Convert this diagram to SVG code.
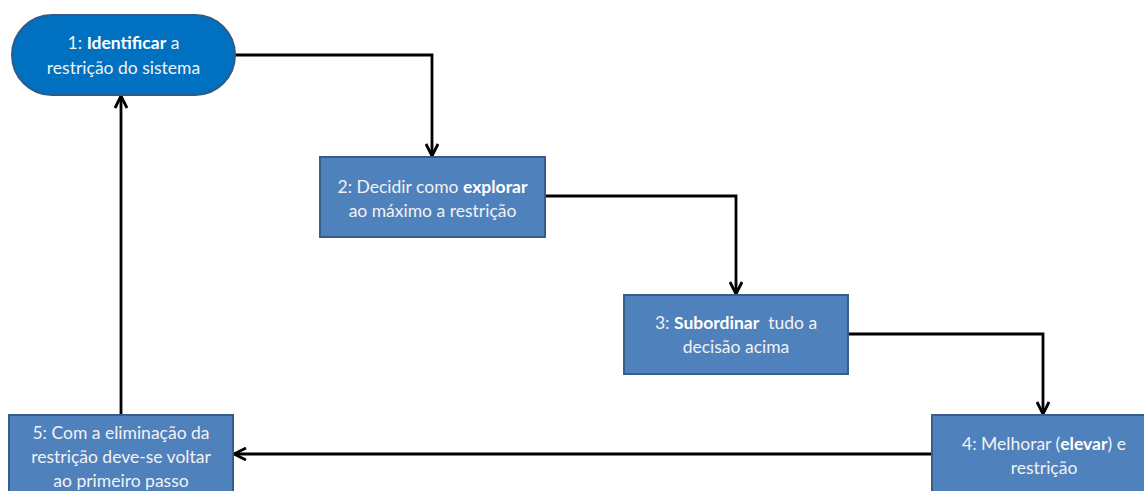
<svg xmlns="http://www.w3.org/2000/svg" width="1144" height="491" viewBox="0 0 1144 491">
<style>
.box{fill:#4f81bd;stroke:#385d8a;stroke-width:2}
.pill{fill:#0070c0;stroke:#2f5a8a;stroke-width:2}
text{font-family:Lato,"Open Sans","Liberation Sans",sans-serif;font-size:17.5px;fill:#f2f2f2;text-anchor:middle}
.b{font-weight:bold;fill:#ffffff}
.c{fill:none;stroke:#000;stroke-width:2.8}
</style>
<defs>
<marker id="arr" viewBox="0 0 14 14" refX="13" refY="7" markerWidth="14" markerHeight="14" markerUnits="userSpaceOnUse" orient="auto">
<path d="M1,1 L13,7 L1,13" fill="none" stroke="#000" stroke-width="2.8"/>
</marker>
</defs>
<g id="connectors">
<path class="c" d="M235,55 H432 V156" marker-end="url(#arr)"/>
<path class="c" d="M545,196 H736 V294" marker-end="url(#arr)"/>
<path class="c" d="M848,334 H1043 V414" marker-end="url(#arr)"/>
<path class="c" d="M932,454 H234" marker-end="url(#arr)"/>
<path class="c" d="M121,415 V96" marker-end="url(#arr)"/>
</g>
<g id="node1">
<rect class="pill" x="12" y="15" width="223" height="80" rx="40" ry="40"/>
<text x="123.5" y="49">1: <tspan class="b">Identificar</tspan> a</text>
<text x="123.5" y="74">restrição do sistema</text>
</g>
<g id="node2">
<rect class="box" x="320" y="157" width="225" height="80"/>
<text x="432.5" y="193">2: Decidir como <tspan class="b">explorar</tspan></text>
<text x="432.5" y="217">ao máximo a restrição</text>
</g>
<g id="node3">
<rect class="box" x="624" y="295" width="224" height="79"/>
<text x="736" y="329" xml:space="preserve">3: <tspan class="b">Subordinar</tspan>  tudo a</text>
<text x="736" y="353">decisão acima</text>
</g>
<g id="node4">
<rect class="box" x="932" y="415" width="225" height="90"/>
<text x="1044" y="450">4: Melhorar (<tspan class="b">elevar</tspan>) e</text>
<text x="1044" y="474">restrição</text>
</g>
<g id="node5">
<rect class="box" x="9" y="415" width="224" height="90"/>
<text x="121" y="439">5: Com a eliminação da</text>
<text x="121" y="463">restrição deve-se voltar</text>
<text x="121" y="487">ao primeiro passo</text>
</g>
</svg>
